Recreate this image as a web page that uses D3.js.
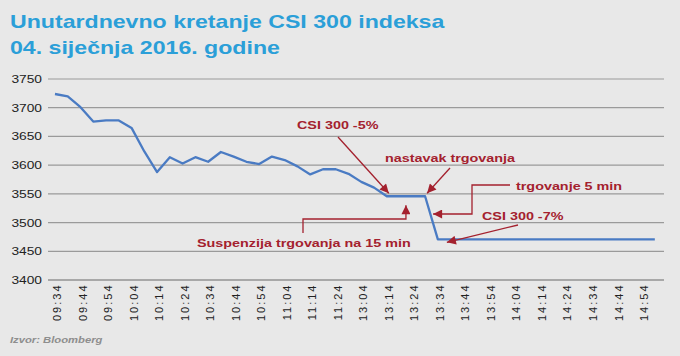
<!DOCTYPE html>
<html>
<head>
<meta charset="utf-8">
<script src="https://cdn.jsdelivr.net/npm/d3@7"></script>
<style>
  html, body { margin: 0; padding: 0; background: #e8e8e8; }
  svg { display: block; }
</style>
</head>
<body>
<div id="chart"></div>
<script>
// ---- data ----
const titleLines = ["Unutardnevno kretanje CSI 300 indeksa", "04. siječnja 2016. godine"];
const sourceText = "Izvor: Bloomberg";

const times = [
  "09:34","09:39","09:44","09:49","09:54","09:59","10:04","10:09","10:14","10:19","10:24","10:29",
  "10:34","10:39","10:44","10:49","10:54","10:59","11:04","11:09","11:14","11:19","11:24","11:29",
  "13:04","13:09","13:14","13:19","13:24","13:29","13:34","13:39","13:44","13:49","13:54","13:59",
  "14:04","14:09","14:14","14:19","14:24","14:29","14:34","14:39","14:44","14:49","14:54","14:59"
];
const csi300 = [
  3723, 3719, 3700, 3675, 3677, 3677, 3664, 3623, 3587, 3613, 3602, 3613,
  3605, 3622, 3614, 3605, 3601, 3614, 3608, 3597, 3583, 3592, 3592, 3584,
  3570, 3560, 3545, 3545, 3545, 3545, 3470, 3470, 3470, 3470, 3470, 3470,
  3470, 3470, 3470, 3470, 3470, 3470, 3470, 3470, 3470, 3470, 3470, 3470
];
const tickLabels = [
  "09:34","09:44","09:54","10:04","10:14","10:24","10:34","10:44","10:54","11:04","11:14","11:24",
  "13:04","13:14","13:24","13:34","13:44","13:54","14:04","14:14","14:24","14:34","14:44","14:54"
];
const yTicks = [3400, 3450, 3500, 3550, 3600, 3650, 3700, 3750];
const annotationTexts = ["CSI 300 -5%", "nastavak trgovanja", "trgovanje 5 min", "CSI 300 -7%", "Suspenzija trgovanja na 15 min"];

// ---- drawing ----
const W = 680, H = 356;
const SX = 1.25; // horizontal text stretch seen in reference
const RED = "#a4212e";
const BLUE = "#4a7bc3";

const svg = d3.select("#chart").append("svg").attr("width", W).attr("height", H);
svg.append("rect").attr("width", W).attr("height", H).attr("fill", "#e8e8e8");

const defs = svg.append("defs");
defs.append("marker")
  .attr("id", "arr").attr("viewBox", "0 0 10 10")
  .attr("refX", 10).attr("refY", 5)
  .attr("markerWidth", 10).attr("markerHeight", 9)
  .attr("markerUnits", "userSpaceOnUse")
  .attr("orient", "auto")
  .append("path").attr("d", "M0,0 L10,5 L0,10 Z").attr("fill", RED);

function stretchedText(g, x, y, txt, opts) {
  const t = g.append("g").attr("transform", `translate(${x},${y}) scale(${SX},1)`)
    .append("text").attr("x", 0).attr("y", 0).text(txt);
  Object.entries(opts || {}).forEach(([k, v]) => t.attr(k, v));
  return t;
}

// title
titleLines.forEach((line, i) => {
  stretchedText(svg, 10, 27.5 + i * 26.7, line, {
    "font-family": "Liberation Sans, Arial, sans-serif",
    "font-size": "18.5px", "font-weight": "bold", "fill": "#2b9fd8"
  });
});

// scales
const x = d3.scalePoint().domain(times).range([48.6, 661.2]).padding(0.5);
const y = d3.scaleLinear().domain([3400, 3750]).range([279.5, 78.5]);

// y axis + gridlines
const yAxis = svg.append("g").attr("transform", "translate(48,0)")
  .call(d3.axisLeft(y).tickValues(yTicks).tickSize(-616).tickFormat(d3.format("d")));
yAxis.select(".domain").remove();
yAxis.selectAll(".tick line")
  .attr("stroke", d => d === 3400 ? "#a8a8a8" : "#9a9a9a")
  .attr("stroke-width", d => d === 3400 ? 2 : 1.2);
yAxis.selectAll(".tick text")
  .attr("x", 0).attr("dy", null)
  .attr("transform", `translate(-6,4) scale(${SX},1)`)
  .attr("text-anchor", "end")
  .attr("font-family", "Liberation Sans, Arial, sans-serif")
  .attr("font-size", "11px").attr("fill", "#222");

// x axis
const xAxis = svg.append("g").attr("transform", `translate(0,${y(3400)})`)
  .call(d3.axisBottom(x).tickValues(tickLabels).tickSize(0));
xAxis.select(".domain").remove();
xAxis.selectAll(".tick text")
  .attr("x", 0).attr("y", 0).attr("dy", null)
  .attr("transform", "translate(5.5,4) rotate(-90)")
  .attr("text-anchor", "end")
  .attr("font-family", "Liberation Sans, Arial, sans-serif")
  .attr("font-size", "11px").attr("letter-spacing", "2px").attr("fill", "#222");

// line
const line = d3.line().x((d, i) => x(times[i])).y(d => y(d));
svg.append("path").datum(csi300)
  .attr("d", line)
  .attr("fill", "none").attr("stroke", BLUE).attr("stroke-width", 2.3)
  .attr("stroke-linejoin", "round");

// annotations
const ann = svg.append("g");
const aStyle = {
  "font-family": "Liberation Sans, Arial, sans-serif",
  "font-size": "11.5px", "font-weight": "bold", "fill": RED
};
function arrowPath(pts) {
  ann.append("path").attr("d", d3.line()(pts))
    .attr("fill", "none").attr("stroke", RED).attr("stroke-width", 1.3)
    .attr("marker-end", "url(#arr)");
}
const xi = i => x(times[i]);

// CSI 300 -5%
stretchedText(ann, 297, 129, annotationTexts[0], aStyle);
arrowPath([[338, 137], [xi(26) + 2, y(3545) - 3]]);
// nastavak trgovanja
stretchedText(ann, 385, 162, annotationTexts[1], aStyle);
arrowPath([[450, 168], [xi(29) + 2, y(3545) - 3]]);
// trgovanje 5 min
stretchedText(ann, 516, 190, annotationTexts[2], aStyle);
arrowPath([[510, 185], [472, 185], [472, 214], [xi(29) + 8, 214]]);
// CSI 300 -7%
stretchedText(ann, 482, 220, annotationTexts[3], aStyle);
arrowPath([[518, 225], [xi(30) + 9, y(3470) + 3]]);
// Suspenzija trgovanja na 15 min
stretchedText(ann, 197, 247, annotationTexts[4], aStyle);
arrowPath([[303, 233], [303, 219], [(xi(27) + xi(28)) / 2, 219], [(xi(27) + xi(28)) / 2, y(3545) + 9]]);

// source
stretchedText(svg, 10, 342.5, sourceText, {
  "font-family": "Liberation Sans, Arial, sans-serif",
  "font-size": "9px", "font-weight": "bold", "font-style": "italic", "fill": "#8e8e8e"
});
</script>
</body>
</html>
